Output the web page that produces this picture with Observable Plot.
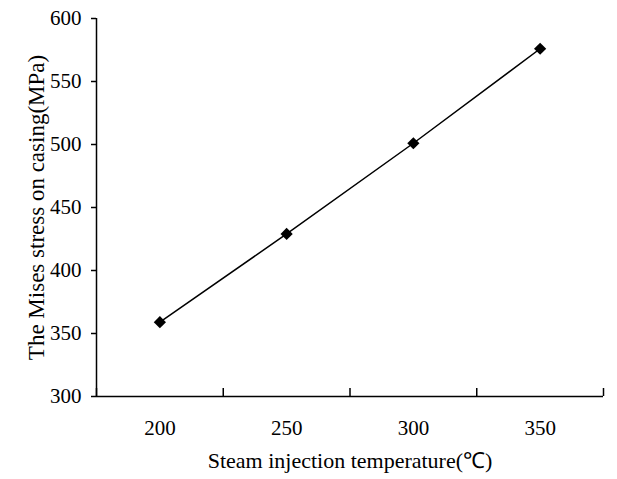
<!DOCTYPE html>
<html>
<head>
<meta charset="utf-8">
<script src="https://cdn.jsdelivr.net/npm/d3@7"></script>
<script src="https://cdn.jsdelivr.net/npm/@observablehq/plot@0.6"></script>
<style>
  body { margin: 0; background: #fff; }
</style>
</head>
<body>
<div id="chart"></div>
<script>
const temperatures = [200, 250, 300, 350];
const stress = [359, 429, 501, 576];
const xBoundaries = [175, 225, 275, 325, 375];
const yTicks = [300, 350, 400, 450, 500, 550, 600];
const xTitle = "Steam injection temperature(\u2103)";
const yTitle = "The Mises stress on casing(MPa)";

const data = temperatures.map((t, i) => ({t, s: stress[i]}));
const serif = "Liberation Serif";

const chart = Plot.plot({
  width: 617,
  height: 479,
  marginLeft: 96,
  marginRight: 14,
  marginTop: 18,
  marginBottom: 83,
  style: {color: "#000", background: "#fff", fontFamily: serif},
  x: {type: "linear", domain: [175, 375]},
  y: {type: "linear", domain: [300, 600]},
  marks: [
    Plot.axisY(yTicks, {tickSize: 5, tickPadding: 10, label: null, strokeWidth: 1.5, fontFamily: serif, fontSize: 21, fill: "#000"}),
    Plot.axisX(temperatures, {tickSize: 0, tickPadding: 24, label: null, fontFamily: serif, fontSize: 21, fill: "#000"}),
    Plot.axisX(xBoundaries, {tickSize: 8, dy: -8, text: null, label: null, strokeWidth: 1.5}),
    Plot.ruleX([175], {stroke: "#000", strokeWidth: 1.5}),
    Plot.ruleY([300], {stroke: "#000", strokeWidth: 1.5}),
    Plot.line(data, {x: "t", y: "s", stroke: "#000", strokeWidth: 1.5}),
    Plot.dot(data, {x: "t", y: "s", symbol: "diamond2", r: 5.5, fill: "#000", stroke: "none"}),
    Plot.text([xTitle], {frameAnchor: "bottom", dy: 71, textAnchor: "middle", fill: "#000", fontFamily: serif, fontSize: 22}),
    Plot.text([yTitle], {frameAnchor: "left", dx: -60, rotate: -90, textAnchor: "middle", fill: "#000", fontFamily: serif, fontSize: 23})
  ]
});
document.getElementById("chart").appendChild(chart);
</script>
</body>
</html>
